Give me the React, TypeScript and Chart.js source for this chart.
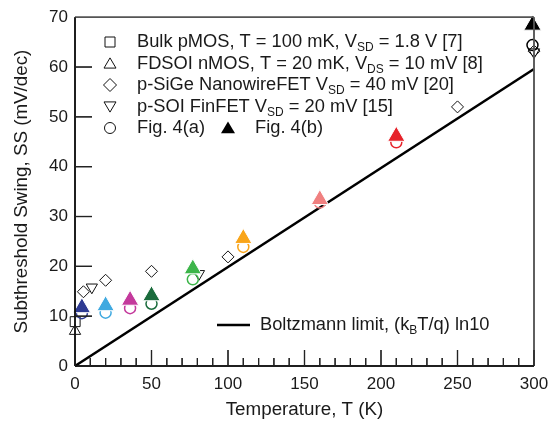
import React, { useEffect, useRef } from 'react';
import { Chart, registerables } from 'chart.js';

Chart.register(...registerables);

// ---- data ----
const bulkT = [0.1];
const bulkSS = [8.9];
const fdsoiT = [0.02];
const fdsoiSS = [7.0];
const sigeT = [5.5, 20, 50, 100, 250, 300];
const sigeSS = [14.9, 17.2, 19.0, 21.9, 52.0, 63.2];
const finT = [11, 81, 300];
const finSS = [15.8, 18.5, 63.0];
const figT = [4.5, 20, 36, 50, 77, 110, 160, 210, 299];
const figA = [10.6, 10.7, 11.6, 12.5, 17.4, 23.9, 32.8, 44.9, 64.4];
const figB = [11.7, 12.1, 13.2, 14.1, 19.5, 25.6, 33.4, 46.1, 68.4];
const figColors = ['#2d3a92', '#3fa9e0', '#c4399c', '#1a6b3c', '#3db54a', '#f9a51a', '#f08080', '#e6222a', '#000000'];
const boltzT = [0, 300];
const boltzSS = [0, 59.6];

const xMin = 0;
const xMax = 300;
const xMajorStep = 50;
const xMinorStep = 10;
const yMin = 0;
const yMax = 70;
const yStep = 10;

const xTitle = 'Temperature, T (K)';
const yTitle = 'Subthreshold Swing, SS (mV/dec)';

// legend rows: [text, isSubscript][]
const legendRows: [string, boolean][][] = [
  [['Bulk pMOS, T = 100 mK, V', false], ['SD', true], [' = 1.8 V [7]', false]],
  [['FDSOI nMOS, T = 20 mK, V', false], ['DS', true], [' = 10 mV [8]', false]],
  [['p-SiGe NanowireFET V', false], ['SD', true], [' = 40 mV [20]', false]],
  [['p-SOI FinFET V', false], ['SD', true], [' = 20 mV [15]', false]],
  [['Fig. 4(a)', false]],
];
const legendMarkers = ['square', 'triangle', 'diamond', 'downTriangle', 'circle'];
const legendFigB = 'Fig. 4(b)';
const boltzLabel: [string, boolean][] = [['Boltzmann limit, (k', false], ['B', true], ['T/q) ln10', false]];

const FONT = '"Liberation Sans", Arial, sans-serif';
const TEXT = '#1a1a1a';
const W = 557;
const H = 428;

function toPts(xs: number[], ys: number[]) {
  return xs.map((x, i) => ({ x, y: ys[i] }));
}

function drawMarker(ctx: CanvasRenderingContext2D, kind: string, x: number, y: number, r: number, fill: string | null, stroke: string | null, lw = 1) {
  ctx.beginPath();
  if (kind === 'square') {
    ctx.rect(x - r, y - r, 2 * r, 2 * r);
  } else if (kind === 'triangle') {
    const h = r * 1.7;
    ctx.moveTo(x, y - h * 0.55);
    ctx.lineTo(x + r, y + h * 0.45);
    ctx.lineTo(x - r, y + h * 0.45);
    ctx.closePath();
  } else if (kind === 'downTriangle') {
    const h = r * 1.7;
    ctx.moveTo(x, y + h * 0.55);
    ctx.lineTo(x + r, y - h * 0.45);
    ctx.lineTo(x - r, y - h * 0.45);
    ctx.closePath();
  } else if (kind === 'diamond') {
    ctx.moveTo(x, y - r);
    ctx.lineTo(x + r, y);
    ctx.lineTo(x, y + r);
    ctx.lineTo(x - r, y);
    ctx.closePath();
  } else {
    ctx.arc(x, y, r, 0, Math.PI * 2);
  }
  if (fill) {
    ctx.fillStyle = fill;
    ctx.fill();
  }
  if (stroke) {
    ctx.strokeStyle = stroke;
    ctx.lineWidth = lw;
    ctx.stroke();
  }
}

function drawRich(ctx: CanvasRenderingContext2D, x: number, y: number, parts: [string, boolean][], size: number) {
  let cx = x;
  ctx.fillStyle = TEXT;
  ctx.textBaseline = 'middle';
  ctx.textAlign = 'left';
  for (const [t, sub] of parts) {
    ctx.font = `${sub ? Math.round(size * 0.68) : size}px ${FONT}`;
    ctx.fillText(t, cx, sub ? y + size * 0.32 : y);
    cx += ctx.measureText(t).width;
  }
  return cx;
}

function seg(ctx: CanvasRenderingContext2D, x1: number, y1: number, x2: number, y2: number) {
  ctx.beginPath();
  ctx.moveTo(x1, y1);
  ctx.lineTo(x2, y2);
  ctx.stroke();
}

function drawFrame(ctx: CanvasRenderingContext2D, chart: any) {
  const xs = chart.scales['x'];
  const ys = chart.scales['y'];
  const L = +xs.getPixelForValue(xMin);
  const R = +xs.getPixelForValue(xMax);
  const B = +ys.getPixelForValue(yMin);
  const T = +ys.getPixelForValue(yMax);
  ctx.save();
  ctx.globalAlpha = 1;
  ctx.globalCompositeOperation = 'source-over';
  ctx.setLineDash([]);
  ctx.lineCap = 'butt';
  ctx.lineWidth = 1.5;
  ctx.strokeStyle = '#555555';
  seg(ctx, L, T, R, T);
  seg(ctx, R, T, R, B);
  ctx.strokeStyle = '#111111';
  seg(ctx, L, T, L, B);
  seg(ctx, L, B, R, B);
  ctx.lineWidth = 1.2;
  ctx.strokeStyle = '#222222';
  for (let v = xMin; v <= xMax; v += xMinorStep) {
    const px = +xs.getPixelForValue(v);
    const len = v % xMajorStep === 0 ? 16 : 8;
    seg(ctx, px, B, px, B - len);
  }
  for (let v = yMin + yStep; v < yMax; v += yStep) {
    const py = +ys.getPixelForValue(v);
    seg(ctx, L, py, L + 17, py);
  }
  ctx.restore();
}

function drawLegend(ctx: CanvasRenderingContext2D) {
  ctx.save();
  const size = 18.3;
  const mx = 110;
  const tx = 137;
  const rowY = [42, 63.5, 85, 106.5, 128];
  legendRows.forEach((row, i) => {
    const y = rowY[i];
    const m = legendMarkers[i];
    if (m === 'circle') drawMarker(ctx, m, mx, y, 5.5, null, '#111', 1);
    else if (m === 'square') drawMarker(ctx, m, mx, y, 5, null, '#111', 1);
    else if (m === 'diamond') drawMarker(ctx, m, mx, y, 6.5, null, '#111', 1);
    else drawMarker(ctx, m, mx, y, 6, null, '#111', 1);
    drawRich(ctx, tx, y, row, size);
  });
  drawMarker(ctx, 'triangle', 228, rowY[4], 7, '#000', null);
  drawRich(ctx, 255, rowY[4], [[legendFigB, false]], size);
  ctx.strokeStyle = '#000';
  ctx.lineWidth = 2.5;
  seg(ctx, 217, 325, 250, 325);
  drawRich(ctx, 260, 325, boltzLabel, size);
  ctx.restore();
}

export default function App() {
  const ref = useRef<HTMLCanvasElement>(null);
  const overlayRef = useRef<HTMLCanvasElement>(null);
  useEffect(() => {
    if (!ref.current) return;
    const overlayPlugin = {
      id: 'overlayFrame',
      afterDraw(chart: any) {
        const main: CanvasRenderingContext2D = chart.ctx;
        drawFrame(main, chart);
        drawLegend(main);
        const ov = overlayRef.current;
        if (ov) {
          const octx = ov.getContext('2d');
          if (octx) {
            octx.clearRect(0, 0, W, H);
            drawFrame(octx, chart);
          }
        }
      },
    };
    const chart = new Chart(ref.current, {
      type: 'scatter',
      data: {
        datasets: [
          {
            label: 'Fig. 4(b)',
            data: toPts(figT, figB),
            pointStyle: 'triangle',
            pointRadius: 10,
            pointBackgroundColor: figColors,
            pointBorderColor: '#ffffff',
            pointBorderWidth: 1,
            order: 0,
            clip: false,
          } as any,
          {
            label: 'Fig. 4(a)',
            data: toPts(figT, figA),
            pointStyle: 'circle',
            pointRadius: 5.5,
            pointBackgroundColor: 'rgba(255,255,255,0)',
            pointBorderColor: figColors,
            pointBorderWidth: 1.5,
            order: 1,
            clip: false,
          },
          {
            label: 'p-SOI FinFET',
            data: toPts(finT, finSS),
            pointStyle: 'triangle',
            pointRotation: 180,
            pointRadius: 6.5,
            pointBackgroundColor: 'rgba(255,255,255,0)',
            pointBorderColor: '#111',
            pointBorderWidth: 1,
            order: 2,
            clip: false,
          } as any,
          {
            label: 'p-SiGe',
            data: toPts(sigeT, sigeSS),
            pointStyle: 'rectRot',
            pointRadius: 6,
            pointBackgroundColor: 'rgba(255,255,255,0)',
            pointBorderColor: '#111',
            pointBorderWidth: 1,
            order: 3,
            clip: false,
          },
          {
            label: 'FDSOI',
            data: toPts(fdsoiT, fdsoiSS),
            pointStyle: 'triangle',
            pointRadius: 6.5,
            pointBackgroundColor: '#fff',
            pointBorderColor: '#111',
            pointBorderWidth: 1,
            order: 4,
            clip: false,
          },
          {
            label: 'Bulk',
            data: toPts(bulkT, bulkSS),
            pointStyle: 'rect',
            pointRadius: 7,
            pointBackgroundColor: '#fff',
            pointBorderColor: '#111',
            pointBorderWidth: 1,
            order: 5,
            clip: false,
          },
          {
            label: 'Boltzmann',
            data: toPts(boltzT, boltzSS),
            showLine: true,
            borderColor: '#000',
            borderWidth: 2.6,
            pointRadius: 0,
            order: 6,
            clip: false,
          },
        ],
      },
      options: {
        animation: false,
        responsive: false,
        events: [],
        layout: { padding: { top: 14, right: 23, left: 0, bottom: 0 } },
        plugins: { legend: { display: false }, tooltip: { enabled: false } },
        scales: {
          x: {
            type: 'linear',
            min: xMin,
            max: xMax,
            grid: { display: false, drawTicks: false },
            border: { display: false },
            ticks: { stepSize: xMajorStep, padding: 8, color: TEXT, font: { size: 17, family: FONT } },
            title: { display: true, text: xTitle, color: TEXT, font: { size: 18.8, family: FONT }, padding: { top: 0, bottom: 7 } },
            afterFit: (s: any) => { s.height = 62; },
          },
          y: {
            type: 'linear',
            min: yMin,
            max: yMax,
            grid: { display: false, drawTicks: false },
            border: { display: false },
            ticks: { stepSize: yStep, padding: 7, color: TEXT, font: { size: 17, family: FONT } },
            title: { display: true, text: yTitle, color: TEXT, font: { size: 18.8, family: FONT }, padding: { top: 11, bottom: 0 } },
            afterFit: (s: any) => { s.width = 75; },
          },
        },
      } as any,
      plugins: [overlayPlugin],
    });
    return () => chart.destroy();
  }, []);
  return (
    <div style={{ position: 'fixed', left: 0, top: 0, width: W, height: H, background: '#fff' }}>
      <canvas ref={ref} width={W} height={H} style={{ display: 'block', position: 'absolute', left: 0, top: 0 }} />
      <canvas ref={overlayRef} width={W} height={H} style={{ display: 'block', position: 'absolute', left: 0, top: 0, pointerEvents: 'none' }} />
    </div>
  );
}
